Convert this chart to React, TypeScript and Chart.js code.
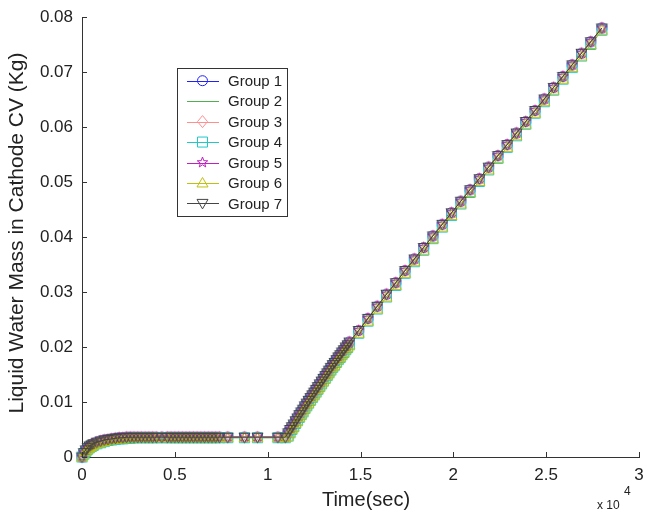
import React, { useEffect, useRef } from "react";
import { Chart, registerables } from "chart.js";

Chart.register(...registerables);

const times = [
  0, 100, 200, 300, 400, 500, 600, 800, 1000, 1200, 1400, 1600, 1800, 2000, 2200, 2400, 2600, 2800, 3000,
  3200, 3400, 3600, 3800, 4000, 4300, 4600, 4800, 5000, 5200, 5400, 5600, 5800, 6000, 6200, 6400, 6600, 6800,
  7000, 7200, 7400, 7850, 8750, 9450, 10550, 10950,
  11100, 11200, 11300, 11400, 11500, 11600, 11700, 11800, 11900, 12000, 12100, 12200, 12300, 12400, 12500, 12600, 12700,
  12800, 12900, 13000, 13100, 13200, 13300, 13400, 13500, 13600, 13700, 13800, 13900, 14000, 14100, 14200, 14300, 14400,
  14900, 15400, 15900, 16400, 16900, 17400, 17900, 18400, 18900, 19400, 19900, 20400, 20900,
  21400, 21900, 22400, 22900, 23400, 23900, 24400, 24900, 25400, 25900, 26400, 26900, 27400, 28000,
];

const baseMass = [
  0, 0.0008, 0.0013, 0.0017, 0.002, 0.0022, 0.0024, 0.0027, 0.0029, 0.0031, 0.0032, 0.0033, 0.0034, 0.0035, 0.0035, 0.0036, 0.0036, 0.0036, 0.0036,
  0.0036, 0.0036, 0.0036, 0.0036, 0.0036, 0.0036, 0.0036, 0.0036, 0.0036, 0.0036, 0.0036, 0.0036, 0.0036, 0.0036, 0.0036, 0.0036, 0.0036, 0.0036,
  0.0036, 0.0036, 0.0036, 0.0036, 0.0036, 0.0036, 0.0036, 0.0036,
  0.0044, 0.005, 0.0055, 0.006, 0.0066, 0.0071, 0.0077, 0.0082, 0.0087, 0.0093, 0.0098, 0.0103, 0.0108, 0.0113, 0.0118, 0.0123, 0.0128,
  0.0133, 0.0138, 0.0143, 0.0148, 0.0153, 0.0158, 0.0163, 0.0168, 0.0172, 0.0177, 0.0182, 0.0186, 0.0191, 0.0195, 0.02, 0.0204, 0.0209,
  0.023, 0.0252, 0.0274, 0.0296, 0.0317, 0.0339, 0.036, 0.0381, 0.0402, 0.0423, 0.0444, 0.0465, 0.0486,
  0.0506, 0.0527, 0.0548, 0.0568, 0.0589, 0.061, 0.063, 0.0651, 0.0672, 0.0692, 0.0713, 0.0734, 0.0755, 0.078,
];

const lagMass = [
  0, 0.0005, 0.001, 0.0014, 0.0017, 0.0019, 0.0021, 0.0024, 0.0026, 0.0028, 0.003, 0.0031, 0.0032, 0.0033, 0.0033, 0.0034, 0.0034, 0.0035, 0.0035,
  0.0035, 0.0035, 0.0035, 0.0035, 0.0035, 0.0035, 0.0035, 0.0035, 0.0035, 0.0035, 0.0035, 0.0035, 0.0035, 0.0035, 0.0035, 0.0035, 0.0035, 0.0035,
  0.0035, 0.0035, 0.0035, 0.0035, 0.0035, 0.0035, 0.0035, 0.0035,
  0.0038, 0.0044, 0.005, 0.0055, 0.0061, 0.0066, 0.0072, 0.0077, 0.0082, 0.0088, 0.0093, 0.0098, 0.0103, 0.0108, 0.0113, 0.0118, 0.0123,
  0.0128, 0.0133, 0.0138, 0.0143, 0.0148, 0.0153, 0.0158, 0.0163, 0.0167, 0.0172, 0.0177, 0.0181, 0.0186, 0.019, 0.0195, 0.0199, 0.0204,
  0.0225, 0.0247, 0.0269, 0.0291, 0.0312, 0.0334, 0.0355, 0.0376, 0.0397, 0.0418, 0.0439, 0.046, 0.0481,
  0.0501, 0.0522, 0.0543, 0.0563, 0.0584, 0.0605, 0.0625, 0.0646, 0.0667, 0.0687, 0.0708, 0.0729, 0.075, 0.0776,
];

const groupNames = ["Group 1", "Group 2", "Group 3", "Group 4", "Group 5", "Group 6", "Group 7"];
const groupColors = ["#2020ff", "#50b050", "#ff8f8f", "#20c8c8", "#c020c0", "#c0c010", "#454545"];
const groupMarkers = ["circle", "none", "diamond", "square", "star", "triangle", "invtriangle"];
const groupData = [baseMass, baseMass, baseMass, lagMass, baseMass, lagMass, baseMass];

const yTicks = [0, 0.01, 0.02, 0.03, 0.04, 0.05, 0.06, 0.07, 0.08];
const xTicks = [0, 5000, 10000, 15000, 20000, 25000, 30000];
const xTickLabels = ["0", "0.5", "1", "1.5", "2", "2.5", "3"];

const FONT = "'Liberation Sans', Arial, sans-serif";

function pathMarker(ctx: CanvasRenderingContext2D, kind: string, x: number, y: number, r: number) {
  ctx.beginPath();
  if (kind === "circle") {
    ctx.arc(x, y, r, 0, Math.PI * 2);
  } else if (kind === "diamond") {
    ctx.moveTo(x, y - r * 1.2);
    ctx.lineTo(x + r, y);
    ctx.lineTo(x, y + r * 1.2);
    ctx.lineTo(x - r, y);
    ctx.closePath();
  } else if (kind === "square") {
    ctx.rect(x - r, y - r, 2 * r, 2 * r);
  } else if (kind === "triangle") {
    ctx.moveTo(x, y - r * 1.1);
    ctx.lineTo(x + r * 1.1, y + r * 0.8);
    ctx.lineTo(x - r * 1.1, y + r * 0.8);
    ctx.closePath();
  } else if (kind === "invtriangle") {
    ctx.moveTo(x, y + r * 1.1);
    ctx.lineTo(x + r * 1.1, y - r * 0.8);
    ctx.lineTo(x - r * 1.1, y - r * 0.8);
    ctx.closePath();
  } else if (kind === "star") {
    for (let k = 0; k < 10; k++) {
      const ang = -Math.PI / 2 + (k * Math.PI) / 5;
      const rr = k % 2 === 0 ? r * 1.1 : r * 0.45;
      const px = x + rr * Math.cos(ang);
      const py = y + rr * Math.sin(ang);
      if (k === 0) ctx.moveTo(px, py);
      else ctx.lineTo(px, py);
    }
    ctx.closePath();
  }
  ctx.stroke();
}

function markerCanvas(kind: string, color: string, r: number) {
  const size = Math.ceil(r * 2 + 5);
  const c = document.createElement("canvas");
  c.width = size;
  c.height = size;
  const ctx = c.getContext("2d")!;
  ctx.strokeStyle = color;
  ctx.lineWidth = 1;
  pathMarker(ctx, kind, size / 2, size / 2, r);
  return c;
}

const overlay = {
  id: "matlabOverlay",
  afterDraw(chart: any) {
    const ctx: CanvasRenderingContext2D = chart.ctx;
    const xs = chart.scales.x;
    const ys = chart.scales.y;
    const { left, bottom } = chart.chartArea;
    ctx.save();
    // inward ticks
    ctx.strokeStyle = "#333";
    ctx.lineWidth = 1;
    ctx.beginPath();
    yTicks.forEach((v) => {
      const py = Math.round(ys.getPixelForValue(v)) + 0.5;
      ctx.moveTo(left, py);
      ctx.lineTo(left + 5, py);
    });
    xTicks.forEach((v) => {
      const px = Math.round(xs.getPixelForValue(v)) + 0.5;
      ctx.moveTo(px, bottom);
      ctx.lineTo(px, bottom - 5);
    });
    ctx.stroke();

    // axis titles
    ctx.fillStyle = "#222";
    ctx.font = `20px ${FONT}`;
    ctx.textAlign = "center";
    ctx.textBaseline = "middle";
    ctx.fillText("Time(sec)", 366, 500);
    ctx.save();
    ctx.translate(17, 233);
    ctx.rotate(-Math.PI / 2);
    ctx.font = `21px ${FONT}`;
    ctx.fillText("Liquid Water Mass in Cathode CV (Kg)", 0, 0);
    ctx.restore();
    ctx.font = `12px ${FONT}`;
    ctx.textAlign = "left";
    ctx.fillText("x 10", 597, 506);
    ctx.fillText("4", 624, 492);

    // legend
    const bx = 177.5, by = 68.5, bw = 110, bh = 148;
    ctx.fillStyle = "#fff";
    ctx.fillRect(bx, by, bw, bh);
    ctx.strokeStyle = "#333";
    ctx.strokeRect(bx, by, bw, bh);
    groupNames.forEach((name, i) => {
      const cy = 80.7 + i * 20.45;
      ctx.strokeStyle = groupColors[i];
      ctx.lineWidth = 1;
      ctx.beginPath();
      ctx.moveTo(187, Math.round(cy) + 0.5);
      ctx.lineTo(219, Math.round(cy) + 0.5);
      ctx.stroke();
      if (groupMarkers[i] !== "none") pathMarker(ctx, groupMarkers[i], 202.5, cy, 5);
      ctx.fillStyle = "#222";
      ctx.font = `15px ${FONT}`;
      ctx.textAlign = "left";
      ctx.textBaseline = "middle";
      ctx.fillText(name, 228, cy + 1);
    });
    ctx.restore();
  },
};

export default function App() {
  const ref = useRef<HTMLCanvasElement | null>(null);
  useEffect(() => {
    if (!ref.current) return;
    const datasets = groupNames.map((name, i) => ({
      label: name,
      data: times.map((t, j) => ({ x: t, y: groupData[i][j] })),
      borderColor: groupColors[i],
      borderWidth: 1,
      backgroundColor: "transparent",
      pointStyle: groupMarkers[i] === "none" ? false : markerCanvas(groupMarkers[i], groupColors[i], 5),
      pointRadius: groupMarkers[i] === "none" ? 0 : 5,
      pointBorderColor: groupColors[i],
      pointBackgroundColor: "transparent",
      tension: 0,
      clip: false as any,
      order: 6 - i,
    }));
    const chart = new Chart(ref.current, {
      type: "line",
      data: { datasets },
      options: {
        animation: false,
        responsive: false,
        maintainAspectRatio: false,
        layout: { padding: { top: 17, right: 5, left: 0, bottom: 0 } },
        plugins: { legend: { display: false }, tooltip: { enabled: false } },
        scales: {
          x: {
            type: "linear",
            min: 0,
            max: 30000,
            afterBuildTicks: (s: any) => {
              s.ticks = xTicks.map((v) => ({ value: v }));
            },
            afterFit: (s: any) => {
              s.height = 56;
              s.paddingLeft = 0;
              s.paddingRight = 0;
            },
            grid: { display: false, drawTicks: false },
            border: { display: true, color: "#333", width: 1 },
            ticks: {
              padding: 8,
              color: "#222",
              font: { family: FONT, size: 17 },
              maxRotation: 0,
              autoSkip: false,
              callback: (v: any) => {
                const idx = xTicks.indexOf(Number(v));
                return idx >= 0 ? xTickLabels[idx] : "";
              },
            },
          },
          y: {
            type: "linear",
            min: 0,
            max: 0.08,
            afterBuildTicks: (s: any) => {
              s.ticks = yTicks.map((v) => ({ value: v }));
            },
            afterFit: (s: any) => {
              s.width = 82;
              s.paddingTop = 0;
              s.paddingBottom = 0;
            },
            grid: { display: false, drawTicks: false },
            border: { display: true, color: "#333", width: 1 },
            ticks: {
              padding: 9,
              color: "#222",
              font: { family: FONT, size: 17 },
              autoSkip: false,
              callback: (v: any) => (Number(v) === 0 ? "0" : Number(v).toFixed(2)),
            },
          },
        },
      },
      plugins: [overlay],
    });
    return () => chart.destroy();
  }, []);
  return (
    <div style={{ position: "fixed", left: 0, top: 0, width: 645, height: 513, background: "#fff" }}>
      <canvas ref={ref} width={645} height={513} style={{ width: 645, height: 513 }} />
    </div>
  );
}
